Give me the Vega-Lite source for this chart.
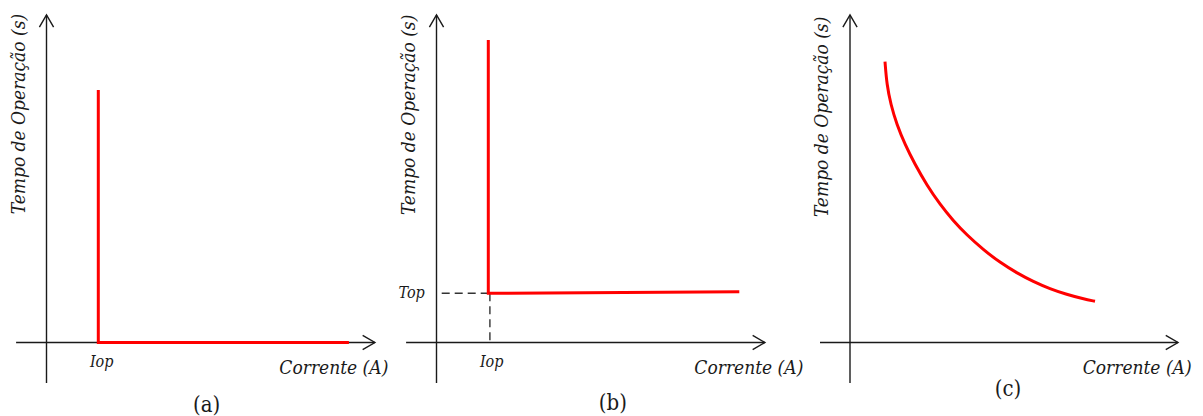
{
  "$schema": "https://vega.github.io/schema/vega-lite/v6.json",
  "padding": 0,
  "spacing": 0,
  "bounds": "flush",
  "background": "white",
  "config": {"view": {"stroke": null}, "text": {"color": "#1a1a1a", "font": "DejaVu Serif Condensed"}},
  "datasets": {
    "axes": [
      {"panel": "a", "x": 0, "y": -1.01, "x2": 0, "y2": 8.19},
      {"panel": "a", "x": -0.76, "y": 0, "x2": 8.21, "y2": 0},
      {"panel": "b", "x": 0, "y": -1.01, "x2": 0, "y2": 8.19},
      {"panel": "b", "x": -0.76, "y": 0, "x2": 8.21, "y2": 0},
      {"panel": "c", "x": 0, "y": -1.01, "x2": 0, "y2": 8.19},
      {"panel": "c", "x": -0.75, "y": 0, "x2": 8.2, "y2": 0}
    ],
    "arrows": [
      {"panel": "a", "dir": "up", "x": 0, "y": 8.19},
      {"panel": "a", "dir": "right", "x": 8.21, "y": 0},
      {"panel": "b", "dir": "up", "x": 0, "y": 8.19},
      {"panel": "b", "dir": "right", "x": 8.21, "y": 0},
      {"panel": "c", "dir": "up", "x": 0, "y": 8.19},
      {"panel": "c", "dir": "right", "x": 8.2, "y": 0}
    ],
    "guides": [
      {"panel": "b", "x": 0.13, "y": 1.23, "x2": 1.295, "y2": 1.23},
      {"panel": "b", "x": 1.335, "y": 1.23, "x2": 1.335, "y2": 0}
    ],
    "curves": [
      {"panel": "a", "i": 0, "x": 1.295, "y": 6.31},
      {"panel": "a", "i": 1, "x": 1.295, "y": 0},
      {"panel": "a", "i": 2, "x": 7.56, "y": 0},
      {"panel": "b", "i": 0, "x": 1.295, "y": 7.56},
      {"panel": "b", "i": 1, "x": 1.295, "y": 1.23},
      {"panel": "b", "i": 2, "x": 7.57, "y": 1.27},
      {"panel": "c", "i": 0, "x": 0.875, "y": 7.02},
      {"panel": "c", "i": 1, "x": 0.92, "y": 6.45},
      {"panel": "c", "i": 2, "x": 1.02, "y": 5.95},
      {"panel": "c", "i": 3, "x": 1.17, "y": 5.45},
      {"panel": "c", "i": 4, "x": 1.375, "y": 4.95},
      {"panel": "c", "i": 5, "x": 1.62, "y": 4.46},
      {"panel": "c", "i": 6, "x": 1.918, "y": 3.94},
      {"panel": "c", "i": 7, "x": 2.25, "y": 3.45},
      {"panel": "c", "i": 8, "x": 2.583, "y": 3.04},
      {"panel": "c", "i": 9, "x": 2.918, "y": 2.69},
      {"panel": "c", "i": 10, "x": 3.333, "y": 2.32},
      {"panel": "c", "i": 11, "x": 3.75, "y": 2.0},
      {"panel": "c", "i": 12, "x": 4.168, "y": 1.74},
      {"panel": "c", "i": 13, "x": 4.583, "y": 1.52},
      {"panel": "c", "i": 14, "x": 5.0, "y": 1.34},
      {"panel": "c", "i": 15, "x": 5.418, "y": 1.2},
      {"panel": "c", "i": 16, "x": 5.833, "y": 1.09},
      {"panel": "c", "i": 17, "x": 6.125, "y": 1.03}
    ],
    "labels": [
      {"panel": "a", "kind": "ytitle", "text": "Tempo de Operação (s)", "x": -0.69, "y": 5.71},
      {"panel": "a", "kind": "xtitle", "text": "Corrente (A)", "x": 8.545, "y": -0.64},
      {"panel": "a", "kind": "tick", "text": "Iop", "x": 1.38, "y": -0.49},
      {"panel": "a", "kind": "caption", "text": "(a)", "x": 4.005, "y": -1.56},
      {"panel": "b", "kind": "ytitle", "text": "Tempo de Operação (s)", "x": -0.69, "y": 5.69},
      {"panel": "b", "kind": "xtitle", "text": "Corrente (A)", "x": 9.17, "y": -0.64},
      {"panel": "b", "kind": "tick", "text": "Iop", "x": 1.38, "y": -0.49},
      {"panel": "b", "kind": "tick", "text": "Top", "x": -0.62, "y": 1.23},
      {"panel": "b", "kind": "caption", "text": "(b)", "x": 4.41, "y": -1.51},
      {"panel": "c", "kind": "ytitle", "text": "Tempo de Operação (s)", "x": -0.71, "y": 5.64},
      {"panel": "c", "kind": "xtitle", "text": "Corrente (A)", "x": 8.54, "y": -0.64},
      {"panel": "c", "kind": "caption", "text": "(c)", "x": 3.95, "y": -1.16}
    ]
  },
  "hconcat": [
    {
      "width": 390,
      "height": 416,
      "encoding": {
        "x": {"field": "x", "type": "quantitative", "scale": {"domain": [-1.1625, 8.5875], "nice": false, "zero": false}, "axis": null},
        "y": {"field": "y", "type": "quantitative", "scale": {"domain": [-1.8375, 8.5625], "nice": false, "zero": false}, "axis": null}
      },
      "layer": [
        {"data": {"name": "axes"}, "transform": [{"filter": "datum.panel === 'a'"}], "mark": {"type": "rule", "color": "#1a1a1a", "strokeWidth": 1.4}, "encoding": {"x2": {"field": "x2"}, "y2": {"field": "y2"}}},
        {"data": {"name": "arrows"}, "transform": [{"filter": "datum.panel === 'a' && datum.dir === 'right'"}], "mark": {"type": "point", "shape": "M-1,-0.58L0,0L-1,0.58", "size": 600, "filled": false, "color": "#1a1a1a", "strokeWidth": 1.4, "opacity": 1}},
        {"data": {"name": "arrows"}, "transform": [{"filter": "datum.panel === 'a' && datum.dir === 'up'"}], "mark": {"type": "point", "shape": "M-1,-0.58L0,0L-1,0.58", "size": 600, "angle": 270, "filled": false, "color": "#1a1a1a", "strokeWidth": 1.4, "opacity": 1}},
        {"data": {"name": "curves"}, "transform": [{"filter": "datum.panel === 'a'"}], "mark": {"type": "line", "color": "#ff0000", "strokeWidth": 3}, "encoding": {"order": {"field": "i", "type": "quantitative"}}},
        {"data": {"name": "labels"}, "transform": [{"filter": "datum.panel === 'a' && datum.kind === 'ytitle'"}], "mark": {"type": "text", "angle": 270, "fontStyle": "italic", "fontSize": 19, "align": "center", "baseline": "middle"}, "encoding": {"text": {"field": "text"}}},
        {"data": {"name": "labels"}, "transform": [{"filter": "datum.panel === 'a' && datum.kind === 'xtitle'"}], "mark": {"type": "text", "fontStyle": "italic", "fontSize": 19, "align": "right", "baseline": "middle"}, "encoding": {"text": {"field": "text"}}},
        {"data": {"name": "labels"}, "transform": [{"filter": "datum.panel === 'a' && datum.kind === 'tick'"}], "mark": {"type": "text", "fontStyle": "italic", "fontSize": 16, "align": "center", "baseline": "middle"}, "encoding": {"text": {"field": "text"}}},
        {"data": {"name": "labels"}, "transform": [{"filter": "datum.panel === 'a' && datum.kind === 'caption'"}], "mark": {"type": "text", "fontSize": 22, "align": "center", "baseline": "middle"}, "encoding": {"text": {"field": "text"}}}
      ]
    },
    {
      "width": 410,
      "height": 416,
      "encoding": {
        "x": {"field": "x", "type": "quantitative", "scale": {"domain": [-1.1625, 9.0875], "nice": false, "zero": false}, "axis": null},
        "y": {"field": "y", "type": "quantitative", "scale": {"domain": [-1.8375, 8.5625], "nice": false, "zero": false}, "axis": null}
      },
      "layer": [
        {"data": {"name": "axes"}, "transform": [{"filter": "datum.panel === 'b'"}], "mark": {"type": "rule", "color": "#1a1a1a", "strokeWidth": 1.4}, "encoding": {"x2": {"field": "x2"}, "y2": {"field": "y2"}}},
        {"data": {"name": "guides"}, "transform": [{"filter": "datum.panel === 'b'"}], "mark": {"type": "rule", "color": "#333333", "strokeWidth": 1.4, "strokeDash": [8, 5]}, "encoding": {"x2": {"field": "x2"}, "y2": {"field": "y2"}}},
        {"data": {"name": "arrows"}, "transform": [{"filter": "datum.panel === 'b' && datum.dir === 'right'"}], "mark": {"type": "point", "shape": "M-1,-0.58L0,0L-1,0.58", "size": 600, "filled": false, "color": "#1a1a1a", "strokeWidth": 1.4, "opacity": 1}},
        {"data": {"name": "arrows"}, "transform": [{"filter": "datum.panel === 'b' && datum.dir === 'up'"}], "mark": {"type": "point", "shape": "M-1,-0.58L0,0L-1,0.58", "size": 600, "angle": 270, "filled": false, "color": "#1a1a1a", "strokeWidth": 1.4, "opacity": 1}},
        {"data": {"name": "curves"}, "transform": [{"filter": "datum.panel === 'b'"}], "mark": {"type": "line", "color": "#ff0000", "strokeWidth": 3}, "encoding": {"order": {"field": "i", "type": "quantitative"}}},
        {"data": {"name": "labels"}, "transform": [{"filter": "datum.panel === 'b' && datum.kind === 'ytitle'"}], "mark": {"type": "text", "angle": 270, "fontStyle": "italic", "fontSize": 19, "align": "center", "baseline": "middle"}, "encoding": {"text": {"field": "text"}}},
        {"data": {"name": "labels"}, "transform": [{"filter": "datum.panel === 'b' && datum.kind === 'xtitle'"}], "mark": {"type": "text", "fontStyle": "italic", "fontSize": 19, "align": "right", "baseline": "middle"}, "encoding": {"text": {"field": "text"}}},
        {"data": {"name": "labels"}, "transform": [{"filter": "datum.panel === 'b' && datum.kind === 'tick'"}], "mark": {"type": "text", "fontStyle": "italic", "fontSize": 16, "align": "center", "baseline": "middle"}, "encoding": {"text": {"field": "text"}}},
        {"data": {"name": "labels"}, "transform": [{"filter": "datum.panel === 'b' && datum.kind === 'caption'"}], "mark": {"type": "text", "fontSize": 22, "align": "center", "baseline": "middle"}, "encoding": {"text": {"field": "text"}}}
      ]
    },
    {
      "width": 403,
      "height": 416,
      "encoding": {
        "x": {"field": "x", "type": "quantitative", "scale": {"domain": [-1.25, 8.825], "nice": false, "zero": false}, "axis": null},
        "y": {"field": "y", "type": "quantitative", "scale": {"domain": [-1.8375, 8.5625], "nice": false, "zero": false}, "axis": null}
      },
      "layer": [
        {"data": {"name": "axes"}, "transform": [{"filter": "datum.panel === 'c'"}], "mark": {"type": "rule", "color": "#1a1a1a", "strokeWidth": 1.4}, "encoding": {"x2": {"field": "x2"}, "y2": {"field": "y2"}}},
        {"data": {"name": "arrows"}, "transform": [{"filter": "datum.panel === 'c' && datum.dir === 'right'"}], "mark": {"type": "point", "shape": "M-1,-0.58L0,0L-1,0.58", "size": 600, "filled": false, "color": "#1a1a1a", "strokeWidth": 1.4, "opacity": 1}},
        {"data": {"name": "arrows"}, "transform": [{"filter": "datum.panel === 'c' && datum.dir === 'up'"}], "mark": {"type": "point", "shape": "M-1,-0.58L0,0L-1,0.58", "size": 600, "angle": 270, "filled": false, "color": "#1a1a1a", "strokeWidth": 1.4, "opacity": 1}},
        {"data": {"name": "curves"}, "transform": [{"filter": "datum.panel === 'c'"}], "mark": {"type": "line", "color": "#ff0000", "strokeWidth": 3, "interpolate": "basis"}, "encoding": {"order": {"field": "i", "type": "quantitative"}}},
        {"data": {"name": "labels"}, "transform": [{"filter": "datum.panel === 'c' && datum.kind === 'ytitle'"}], "mark": {"type": "text", "angle": 270, "fontStyle": "italic", "fontSize": 19, "align": "center", "baseline": "middle"}, "encoding": {"text": {"field": "text"}}},
        {"data": {"name": "labels"}, "transform": [{"filter": "datum.panel === 'c' && datum.kind === 'xtitle'"}], "mark": {"type": "text", "fontStyle": "italic", "fontSize": 19, "align": "right", "baseline": "middle"}, "encoding": {"text": {"field": "text"}}},
        {"data": {"name": "labels"}, "transform": [{"filter": "datum.panel === 'c' && datum.kind === 'caption'"}], "mark": {"type": "text", "fontSize": 22, "align": "center", "baseline": "middle"}, "encoding": {"text": {"field": "text"}}}
      ]
    }
  ]
}
